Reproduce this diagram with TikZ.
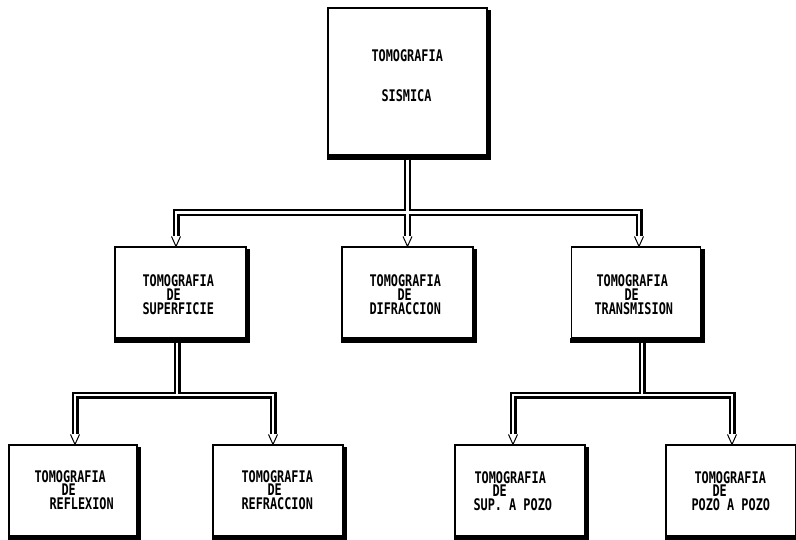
\documentclass[tikz,border=0pt]{standalone}
\usepackage{fontspec}
\newfontfamily\dm{DejaVu Sans Mono}[FakeStretch=0.74]
\usetikzlibrary{calc}
\begin{document}
\begin{tikzpicture}[x=1pt,y=-1pt,
  box/.style={draw=black, line width=1.2pt, fill=white, inner sep=0pt},
  mbox/.style={box, minimum width=131pt, minimum height=91pt},
  lbl/.style={anchor=north west, inner sep=0pt, align=left},
  lblm/.style={lbl, font=\dm\bfseries\fontsize{16}{14}\selectfont},
  lblb/.style={lbl, font=\dm\bfseries\fontsize{16}{13.5}\selectfont},
  outer/.style={line width=7pt, black, line join=miter},
  inner/.style={line width=2.8pt, white, line join=miter},
  tip/.style={draw=black, line width=1pt, fill=white}]
\clip (0,0) rectangle (796,540);
\fill[white] (0,0) rectangle (796,540);
% boxes
\node[box, minimum width=159pt, minimum height=147pt] (top) at (407.5,81.5) {};
\node[mbox] (sup) at (180.5,292.5) {};
\node[mbox] (dif) at (407.5,292.5) {};
\node[mbox, minimum width=129pt] (trans) at (636,292.5) {};
\node[mbox, minimum width=128pt] (refl) at (73,490.5) {};
\node[mbox, minimum width=130pt] (refr) at (278,490.5) {};
\node[mbox, minimum width=130pt] (spz) at (520,490.5) {};
\node[mbox, minimum width=130pt] (pzp) at (731,490.5) {};
% heavy bottom/right edges
\foreach \n in {top,sup,dif,trans,refl,refr,spz,pzp}{
  \fill ($(\n.south west)+(-0.6,-0.6)$) rectangle ($(\n.south east)+(3.5,4)$);
  \fill ($(\n.north east)+(-0.6,3)$) rectangle ($(\n.south east)+(3.5,0)$);
}
% bus levels and arrow tips
\coordinate (bus1) at (0,212.5);
\coordinate (bus2) at (0,395);
\coordinate (tSup) at ($(sup.north)+(-4.5,0)$);
\coordinate (tDif) at (dif.north);
\coordinate (tTr) at ($(trans.north)+(3,0)$);
\coordinate (tRefl) at ($(refl.north)+(2,0)$);
\coordinate (tRefr) at ($(refr.north)+(-5,0)$);
\coordinate (tSpz) at ($(spz.north)+(-7,0)$);
\coordinate (tPzp) at ($(pzp.north)+(1,0)$);
\coordinate (sTop) at ($(top.south)+(0,4)$);
\coordinate (sSup) at ($(sup.south)+(-3.5,4)$);
\coordinate (sTr) at ($(trans.south)+(6,4)$);
\newcommand\conpaths[1]{%
  \draw[#1] ($(tSup)+(0,-10)$) -- (tSup |- bus1) -- (tTr |- bus1) -- ($(tTr)+(0,-10)$);
  \draw[#1] (sTop) -- ($(tDif)+(0,-10)$);
  \draw[#1] ($(tRefl)+(0,-10)$) -- (tRefl |- bus2) -- (tRefr |- bus2) -- ($(tRefr)+(0,-10)$);
  \draw[#1] (sSup) -- (sSup |- bus2);
  \draw[#1] ($(tSpz)+(0,-10)$) -- (tSpz |- bus2) -- (tPzp |- bus2) -- ($(tPzp)+(0,-10)$);
  \draw[#1] (sTr) -- (sTr |- bus2);
}
\conpaths{outer}
\conpaths{inner}
\foreach \t in {tSup,tDif,tTr,tRefl,tRefr,tSpz,tPzp}{
  \draw[tip] ($(\t)+(-4.5,-10)$) -- (\t) -- ($(\t)+(4.5,-10)$);
}
% labels
\node[lblm] (lTop) at ($(top.north west)+(44,42)$) {TOMOGRAFIA\\[26.5pt]\hspace*{10pt}SISMICA};
\node[lblm] (lSup) at ($(sup.north west)+(28,28)$) {TOMOGRAFIA\\\hspace*{24pt}DE\\SUPERFICIE};
\node[lblm] (lDif) at ($(dif.north west)+(28,28)$) {TOMOGRAFIA\\\hspace*{28pt}DE\\DIFRACCION};
\node[lblm] (lTr) at ($(trans.north west)+(23.5,28)$) {\hspace*{2pt}TOMOGRAFIA\\\hspace*{30pt}DE\\TRANSMISION};
\node[lblb] (lRefl) at ($(refl.north west)+(26,26)$) {TOMOGRAFIA\\\hspace*{27pt}DE\\\hspace*{15pt}REFLEXION};
\node[lblb] (lRefr) at ($(refr.north west)+(29,26)$) {TOMOGRAFIA\\\hspace*{26pt}DE\\REFRACCION};
\node[lblb] (lSpz) at ($(spz.north west)+(19,27)$) {\hspace*{1pt}TOMOGRAFIA\\\hspace*{19pt}DE\\SUP. A POZO};
\node[lblb] (lPzp) at ($(pzp.north west)+(26,27)$) {\hspace*{3pt}TOMOGRAFIA\\\hspace*{21pt}DE\\POZO A POZO};
\end{tikzpicture}
\end{document}
